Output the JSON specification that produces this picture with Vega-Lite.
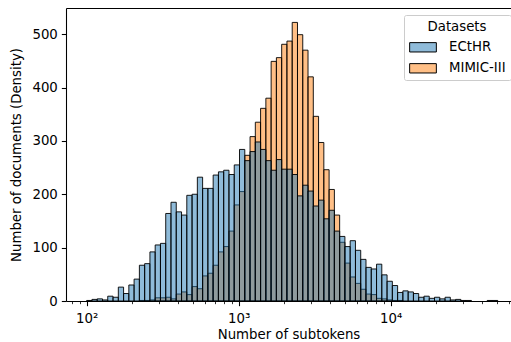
{
  "$schema": "https://vega.github.io/schema/vega-lite/v6.json",
  "width": 445,
  "height": 293,
  "autosize": {"type": "none"},
  "padding": {"left": 66, "top": 8, "right": 0, "bottom": 41},
  "background": "white",
  "config": {
    "view": {"stroke": null},
    "font": "DejaVu Sans",
    "axis": {
      "domainColor": "black", "domainWidth": 1.07,
      "tickColor": "black", "tickWidth": 1.07,
      "labelColor": "black", "titleColor": "black",
      "labelFont": "DejaVu Sans", "titleFont": "DejaVu Sans",
      "labelFontSize": 13.3, "titleFontSize": 13.3,
      "titleFontWeight": "normal", "grid": false
    }
  },
  "datasets": {
    "h": [
      {"d":"MIMIC-III","lo":222.2,"hi":240.7,"n":1},
      {"d":"MIMIC-III","lo":240.7,"hi":260.7,"n":1},
      {"d":"MIMIC-III","lo":260.7,"hi":282.3,"n":2},
      {"d":"MIMIC-III","lo":282.3,"hi":305.8,"n":6},
      {"d":"MIMIC-III","lo":305.8,"hi":331.2,"n":6},
      {"d":"MIMIC-III","lo":331.2,"hi":358.7,"n":7},
      {"d":"MIMIC-III","lo":358.7,"hi":388.5,"n":4},
      {"d":"MIMIC-III","lo":388.5,"hi":420.8,"n":13},
      {"d":"MIMIC-III","lo":420.8,"hi":455.8,"n":17},
      {"d":"MIMIC-III","lo":455.8,"hi":493.7,"n":12},
      {"d":"MIMIC-III","lo":493.7,"hi":534.7,"n":27},
      {"d":"MIMIC-III","lo":534.7,"hi":579.1,"n":23},
      {"d":"MIMIC-III","lo":579.1,"hi":627.3,"n":47},
      {"d":"MIMIC-III","lo":627.3,"hi":679.4,"n":52},
      {"d":"MIMIC-III","lo":679.4,"hi":735.9,"n":67},
      {"d":"MIMIC-III","lo":735.9,"hi":797.0,"n":92},
      {"d":"MIMIC-III","lo":797.0,"hi":863.3,"n":102},
      {"d":"MIMIC-III","lo":863.3,"hi":935.0,"n":131},
      {"d":"MIMIC-III","lo":935.0,"hi":1012.7,"n":180},
      {"d":"MIMIC-III","lo":1012.7,"hi":1096.9,"n":205},
      {"d":"MIMIC-III","lo":1096.9,"hi":1188.0,"n":273},
      {"d":"MIMIC-III","lo":1188.0,"hi":1286.8,"n":308},
      {"d":"MIMIC-III","lo":1286.8,"hi":1393.7,"n":335},
      {"d":"MIMIC-III","lo":1393.7,"hi":1509.6,"n":361},
      {"d":"MIMIC-III","lo":1509.6,"hi":1635.0,"n":380},
      {"d":"MIMIC-III","lo":1635.0,"hi":1770.9,"n":449},
      {"d":"MIMIC-III","lo":1770.9,"hi":1918.1,"n":456},
      {"d":"MIMIC-III","lo":1918.1,"hi":2077.5,"n":481},
      {"d":"MIMIC-III","lo":2077.5,"hi":2250.1,"n":487},
      {"d":"MIMIC-III","lo":2250.1,"hi":2437.1,"n":522},
      {"d":"MIMIC-III","lo":2437.1,"hi":2639.7,"n":499},
      {"d":"MIMIC-III","lo":2639.7,"hi":2859.1,"n":470},
      {"d":"MIMIC-III","lo":2859.1,"hi":3096.7,"n":420},
      {"d":"MIMIC-III","lo":3096.7,"hi":3354.0,"n":346},
      {"d":"MIMIC-III","lo":3354.0,"hi":3632.8,"n":297},
      {"d":"MIMIC-III","lo":3632.8,"hi":3934.7,"n":246},
      {"d":"MIMIC-III","lo":3934.7,"hi":4261.7,"n":209},
      {"d":"MIMIC-III","lo":4261.7,"hi":4615.8,"n":161},
      {"d":"MIMIC-III","lo":4615.8,"hi":4999.4,"n":110},
      {"d":"MIMIC-III","lo":4999.4,"hi":5414.9,"n":71},
      {"d":"MIMIC-III","lo":5414.9,"hi":5864.9,"n":45},
      {"d":"MIMIC-III","lo":5864.9,"hi":6352.3,"n":33},
      {"d":"MIMIC-III","lo":6352.3,"hi":6880.2,"n":22},
      {"d":"MIMIC-III","lo":6880.2,"hi":7452.0,"n":13},
      {"d":"MIMIC-III","lo":7452.0,"hi":8071.3,"n":12},
      {"d":"MIMIC-III","lo":8071.3,"hi":8742.1,"n":5},
      {"d":"MIMIC-III","lo":8742.1,"hi":9468.6,"n":4},
      {"d":"MIMIC-III","lo":9468.6,"hi":10255,"n":2},
      {"d":"MIMIC-III","lo":10255,"hi":11108,"n":1},
      {"d":"MIMIC-III","lo":11108,"hi":12031,"n":1},
      {"d":"ECtHR","lo":100,"hi":108.3,"n":1},
      {"d":"ECtHR","lo":108.3,"hi":117.3,"n":3},
      {"d":"ECtHR","lo":117.3,"hi":127.1,"n":4},
      {"d":"ECtHR","lo":127.1,"hi":137.6,"n":2},
      {"d":"ECtHR","lo":137.6,"hi":149.1,"n":9},
      {"d":"ECtHR","lo":149.1,"hi":161.5,"n":7},
      {"d":"ECtHR","lo":161.5,"hi":174.9,"n":26},
      {"d":"ECtHR","lo":174.9,"hi":189.4,"n":14},
      {"d":"ECtHR","lo":189.4,"hi":205.1,"n":30},
      {"d":"ECtHR","lo":205.1,"hi":222.2,"n":41},
      {"d":"ECtHR","lo":222.2,"hi":240.7,"n":67},
      {"d":"ECtHR","lo":240.7,"hi":260.7,"n":70},
      {"d":"ECtHR","lo":260.7,"hi":282.3,"n":92},
      {"d":"ECtHR","lo":282.3,"hi":305.8,"n":105},
      {"d":"ECtHR","lo":305.8,"hi":331.2,"n":108},
      {"d":"ECtHR","lo":331.2,"hi":358.7,"n":164},
      {"d":"ECtHR","lo":358.7,"hi":388.5,"n":185},
      {"d":"ECtHR","lo":388.5,"hi":420.8,"n":167},
      {"d":"ECtHR","lo":420.8,"hi":455.8,"n":161},
      {"d":"ECtHR","lo":455.8,"hi":493.7,"n":198},
      {"d":"ECtHR","lo":493.7,"hi":534.7,"n":200},
      {"d":"ECtHR","lo":534.7,"hi":579.1,"n":232},
      {"d":"ECtHR","lo":579.1,"hi":627.3,"n":211},
      {"d":"ECtHR","lo":627.3,"hi":679.4,"n":211},
      {"d":"ECtHR","lo":679.4,"hi":735.9,"n":236},
      {"d":"ECtHR","lo":735.9,"hi":797.0,"n":242},
      {"d":"ECtHR","lo":797.0,"hi":863.3,"n":245},
      {"d":"ECtHR","lo":863.3,"hi":935.0,"n":237},
      {"d":"ECtHR","lo":935.0,"hi":1012.7,"n":255},
      {"d":"ECtHR","lo":1012.7,"hi":1096.9,"n":284},
      {"d":"ECtHR","lo":1096.9,"hi":1188.0,"n":263},
      {"d":"ECtHR","lo":1188.0,"hi":1286.8,"n":280},
      {"d":"ECtHR","lo":1286.8,"hi":1393.7,"n":298},
      {"d":"ECtHR","lo":1393.7,"hi":1509.6,"n":284},
      {"d":"ECtHR","lo":1509.6,"hi":1635.0,"n":263},
      {"d":"ECtHR","lo":1635.0,"hi":1770.9,"n":245},
      {"d":"ECtHR","lo":1770.9,"hi":1918.1,"n":265},
      {"d":"ECtHR","lo":1918.1,"hi":2077.5,"n":247},
      {"d":"ECtHR","lo":2077.5,"hi":2250.1,"n":247},
      {"d":"ECtHR","lo":2250.1,"hi":2437.1,"n":237},
      {"d":"ECtHR","lo":2437.1,"hi":2639.7,"n":197},
      {"d":"ECtHR","lo":2639.7,"hi":2859.1,"n":217},
      {"d":"ECtHR","lo":2859.1,"hi":3096.7,"n":206},
      {"d":"ECtHR","lo":3096.7,"hi":3354.0,"n":178},
      {"d":"ECtHR","lo":3354.0,"hi":3632.8,"n":189},
      {"d":"ECtHR","lo":3632.8,"hi":3934.7,"n":154},
      {"d":"ECtHR","lo":3934.7,"hi":4261.7,"n":170},
      {"d":"ECtHR","lo":4261.7,"hi":4615.8,"n":131},
      {"d":"ECtHR","lo":4615.8,"hi":4999.4,"n":121},
      {"d":"ECtHR","lo":4999.4,"hi":5414.9,"n":102},
      {"d":"ECtHR","lo":5414.9,"hi":5864.9,"n":113},
      {"d":"ECtHR","lo":5864.9,"hi":6352.3,"n":95},
      {"d":"ECtHR","lo":6352.3,"hi":6880.2,"n":78},
      {"d":"ECtHR","lo":6880.2,"hi":7452.0,"n":63},
      {"d":"ECtHR","lo":7452.0,"hi":8071.3,"n":60},
      {"d":"ECtHR","lo":8071.3,"hi":8742.1,"n":69},
      {"d":"ECtHR","lo":8742.1,"hi":9468.6,"n":49},
      {"d":"ECtHR","lo":9468.6,"hi":10255,"n":37},
      {"d":"ECtHR","lo":10255,"hi":11108,"n":29},
      {"d":"ECtHR","lo":11108,"hi":12031,"n":16},
      {"d":"ECtHR","lo":12031,"hi":13031,"n":19},
      {"d":"ECtHR","lo":13031,"hi":14114,"n":17},
      {"d":"ECtHR","lo":14114,"hi":15287,"n":14},
      {"d":"ECtHR","lo":15287,"hi":16557,"n":7},
      {"d":"ECtHR","lo":16557,"hi":17933,"n":9},
      {"d":"ECtHR","lo":17933,"hi":19424,"n":5},
      {"d":"ECtHR","lo":19424,"hi":21038,"n":7},
      {"d":"ECtHR","lo":21038,"hi":22786,"n":4},
      {"d":"ECtHR","lo":22786,"hi":24680,"n":7},
      {"d":"ECtHR","lo":24680,"hi":26731,"n":2},
      {"d":"ECtHR","lo":26731,"hi":28952,"n":3},
      {"d":"ECtHR","lo":28952,"hi":31358,"n":1},
      {"d":"ECtHR","lo":31358,"hi":33964,"n":1},
      {"d":"ECtHR","lo":43155,"hi":46741,"n":1},
      {"d":"ECtHR","lo":46741,"hi":50626,"n":1}
    ]
  },
  "data": {"name": "h"},
  "encoding": {
    "y": {
      "field": "n", "type": "quantitative", "stack": null,
      "scale": {"domain": [0, 549], "nice": false},
      "axis": {
        "values": [0, 100, 200, 300, 400, 500],
        "tickSize": 4.67, "labelPadding": 4,
        "title": "Number of documents (Density)", "titlePadding": 8
      }
    },
    "y2": {"datum": 0}
  },
  "layer": [
    {
      "mark": {"type": "bar", "fillOpacity": 0.5, "stroke": "black", "strokeWidth": 0.9, "strokeOpacity": 1},
      "encoding": {
        "x": {
          "field": "lo", "type": "quantitative",
          "scale": {"type": "log", "domain": [73.11, 61880], "nice": false},
          "axis": {
            "values": [80, 90, 100, 200, 300, 400, 500, 600, 700, 800, 900, 1000, 2000, 3000, 4000, 5000, 6000, 7000, 8000, 9000, 10000, 20000, 30000, 40000, 50000, 60000],
            "labelExpr": "datum.value == 100 ? '10²' : datum.value == 1000 ? '10³' : datum.value == 10000 ? '10⁴' : ''",
            "labelOverlap": false, "labelFlush": false,
            "tickSize": {"condition": {"test": "indexof([100, 1000, 10000], datum.value) >= 0", "value": 4.67}, "value": 2.67},
            "tickWidth": {"condition": {"test": "indexof([100, 1000, 10000], datum.value) >= 0", "value": 1.07}, "value": 0.8},
            "labelPadding": 6,
            "title": "Number of subtokens", "titlePadding": 3
          }
        },
        "x2": {"field": "hi"},
        "color": {
          "field": "d", "type": "nominal",
          "scale": {"domain": ["ECtHR", "MIMIC-III"], "range": ["#1f77b4", "#ff7f0e"]},
          "legend": {
            "title": "Datasets", "orient": "none", "legendX": 338, "legendY": 7,
            "fillColor": "white", "strokeColor": "#cccccc", "cornerRadius": 2, "padding": 5,
            "titleFontSize": 13.3, "titleFontWeight": "normal", "titleAnchor": "middle", "titleColor": "black", "titlePadding": 0,
            "labelFontSize": 13.3, "labelColor": "black", "labelOffset": 12,
            "symbolType": "M-1,-0.35H1V0.35H-1Z", "symbolSize": 713,
            "symbolStrokeColor": "black", "symbolStrokeWidth": 1,
            "rowPadding": -6,
            "encode": {"symbols": {"update": {"fillOpacity": {"value": 0.5}, "stroke": {"value": "black"}, "opacity": {"value": 1}}}}
          }
        }
      }
    },
    {
      "mark": {"type": "bar", "opacity": 0},
      "encoding": {
        "x": {
          "field": "lo", "type": "quantitative",
          "scale": {"type": "log", "domain": [73.11, 61880], "nice": false},
          "axis": {"orient": "top", "labels": false, "ticks": false, "title": null, "domain": true}
        },
        "x2": {"field": "hi"}
      }
    }
  ],
  "resolve": {"axis": {"x": "independent"}}
}
